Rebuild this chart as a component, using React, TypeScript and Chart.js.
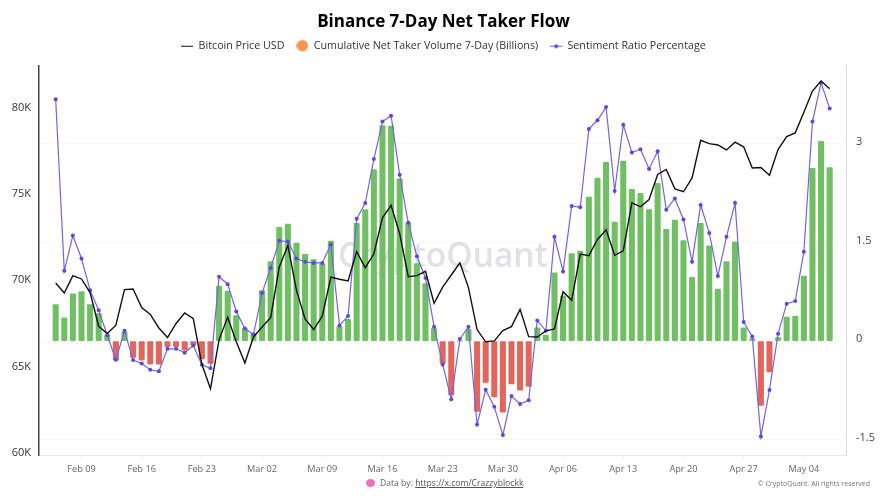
import React, { useEffect, useRef } from "react";
import { Chart, registerables } from "chart.js";

Chart.register(...registerables);

const titleText = "Binance 7-Day Net Taker Flow";
const priceName = "Bitcoin Price USD";
const volumeName = "Cumulative Net Taker Volume 7-Day (Billions)";
const ratioName = "Sentiment Ratio Percentage";

// x = day index, first point is Feb 06
const tickIndices = [3, 10, 17, 24, 31, 38, 45, 52, 59, 66, 73, 80, 87];
const tickLabels = ["Feb 09", "Feb 16", "Feb 23", "Mar 02", "Mar 09", "Mar 16", "Mar 23", "Mar 30", "Apr 06", "Apr 13", "Apr 20", "Apr 27", "May 04"];
const priceTicks = [60, 65, 70, 75, 80];
const ratioTicks = [-1.5, 0, 1.5, 3];

const price = [69.85, 69.27, 70.27, 70.08, 69.29, 67.34, 66.92, 67.4, 69.46, 69.5, 68.42, 68.03, 67.24, 66.69, 67.5, 68.11, 67.78, 65.14, 63.72, 66.57, 67.86, 66.44, 65.22, 66.72, 67.3, 67.84, 70.77, 72.02, 69.42, 67.76, 67.15, 67.92, 70.19, 70.06, 69.96, 71.66, 70.73, 71.54, 73.62, 74.34, 72.7, 70.21, 70.27, 70.52, 68.67, 69.61, 70.31, 71.02, 69.58, 67.15, 66.44, 66.49, 67.09, 67.32, 68.32, 66.74, 66.72, 67.07, 67.19, 69.34, 68.84, 71.52, 71.43, 72.37, 72.93, 71.45, 71.71, 74.49, 74.26, 74.68, 76.13, 76.42, 75.3, 75.13, 75.93, 78.11, 77.92, 77.84, 77.55, 78.0, 77.73, 76.51, 76.53, 76.09, 77.57, 78.32, 78.54, 79.73, 80.96, 81.54, 81.1];
const volume = [0.557, 0.355, 0.72, 0.755, 0.557, 0.42, 0.09, -0.29, 0.14, -0.25, -0.29, -0.35, -0.35, -0.086, -0.086, -0.137, -0.06, -0.27, -0.34, 0.836, 0.76, 0.39, 0.19, 0.117, 0.77, 1.21, 1.73, 1.78, 1.49, 1.32, 1.24, 1.18, 1.52, 0.22, 0.33, 1.79, 2.0, 2.61, 3.28, 3.27, 2.47, 1.8, 1.18, 0.876, 0.19, -0.34, -0.82, 0, 0.18, -1.07, -0.63, -0.85, -1.08, -0.65, -0.745, -0.69, 0.2, 0.09, 1.04, 0.69, 1.33, 1.37, 2.19, 2.48, 2.72, 1.81, 2.74, 2.31, 2.25, 2.0, 2.4, 1.7, 1.84, 1.53, 0.97, 1.79, 1.45, 0.79, 1.21, 1.51, 0.2, 0.04, -0.98, -0.47, 0.055, 0.365, 0.38, 0.99, 2.63, 3.04, 2.64];
const ratio = [3.68, 1.07, 1.606, 1.256, 0.775, 0.47, 0.09, -0.284, 0.157, -0.289, -0.34, -0.436, -0.46, -0.117, -0.117, -0.177, -0.066, -0.36, -0.415, 0.978, 0.866, 0.45, 0.19, 0.1, 0.73, 1.114, 1.525, 1.515, 1.256, 1.206, 1.19, 1.19, 1.47, 0.238, 0.38, 1.86, 2.1, 2.77, 3.34, 3.43, 2.53, 1.8, 1.29, 0.96, 0.22, -0.355, -0.886, 0.03, 0.22, -1.27, -0.74, -1.0, -1.43, -0.836, -0.957, -0.9, 0.314, 0.157, 1.586, 1.06, 2.057, 2.036, 3.227, 3.36, 3.56, 2.285, 3.29, 2.87, 2.92, 2.62, 2.89, 2.0, 2.17, 1.85, 1.206, 2.07, 1.646, 0.99, 1.586, 2.1, 0.29, 0.07, -1.45, -0.745, 0.11, 0.57, 0.61, 1.36, 3.34, 3.93, 3.54];

const FONT = "'Open Sans', 'Noto Sans', sans-serif";
const GREEN = "#70BF63";
const RED = "#E2665C";
const PURPLE = "#7265E3";
const PURPLE_DOT = "#5B48E0";

const toPoints = (values: number[]) => values.map((y, x) => ({ x, y }));

function swatch(draw: (c: CanvasRenderingContext2D) => void) {
  const el = document.createElement("canvas");
  el.width = 12;
  el.height = 14;
  const c = el.getContext("2d")!;
  draw(c);
  return el;
}

const watermark = {
  id: "watermark",
  beforeDatasetsDraw(chart: Chart) {
    const c = chart.ctx;
    c.save();
    c.font = `600 33.5px ${FONT}`;
    c.fillStyle = "rgba(120,125,145,0.22)";
    c.textAlign = "center";
    c.textBaseline = "middle";
    c.fillText("CryptoQuant", 443, 257);
    c.restore();
  },
};

export default function App() {
  const ref = useRef<HTMLCanvasElement>(null);
  useEffect(() => {
    document.body.style.background = "#fff";
    const lineSwatch = swatch((c) => {
      c.strokeStyle = "#111";
      c.lineWidth = 1;
      c.beginPath();
      c.moveTo(0, 7.5);
      c.lineTo(12, 7.5);
      c.stroke();
    });
    const dotSwatch = swatch((c) => {
      c.fillStyle = "#F2974F";
      c.beginPath();
      c.arc(6, 7, 5.8, 0, Math.PI * 2);
      c.fill();
    });
    const ratioSwatch = swatch((c) => {
      c.strokeStyle = PURPLE;
      c.lineWidth = 1;
      c.beginPath();
      c.moveTo(0, 7.5);
      c.lineTo(12, 7.5);
      c.stroke();
      c.fillStyle = PURPLE_DOT;
      c.beginPath();
      c.arc(6, 7.5, 2, 0, Math.PI * 2);
      c.fill();
    });
    const swatches = [lineSwatch, dotSwatch, ratioSwatch];

    const chart = new Chart(ref.current!, {
      type: "bar",
      plugins: [watermark],
      data: {
        datasets: [
          {
            type: "line",
            label: priceName,
            data: toPoints(price),
            yAxisID: "yPrice",
            borderColor: "#111",
            borderWidth: 1.4,
            pointRadius: 0,
            tension: 0,
            order: 1,
          },
          {
            type: "bar",
            label: volumeName,
            data: toPoints(volume),
            yAxisID: "yRatio",
            backgroundColor: (ctx: any) => ((ctx.raw?.y ?? 0) >= 0 ? GREEN : RED),
            barThickness: 5.4,
            borderRadius: 1,
            borderSkipped: false,
            order: 3,
          },
          {
            type: "line",
            label: ratioName,
            data: toPoints(ratio),
            yAxisID: "yRatio",
            borderColor: PURPLE,
            borderWidth: 1.2,
            pointRadius: 2,
            pointBackgroundColor: PURPLE_DOT,
            pointBorderColor: PURPLE_DOT,
            pointBorderWidth: 0,
            tension: 0,
            order: 2,
          },
        ],
      } as any,
      options: {
        responsive: false,
        animation: false,
        layout: { padding: 0 },
        plugins: {
          title: {
            display: true,
            text: titleText,
            color: "#000",
            font: { family: FONT, size: 17, weight: "bold" },
            padding: { top: 12, bottom: -4 },
          },
          // empty box under the legend: spacing between legend and plot
          subtitle: {
            display: true,
            text: "",
            weight: 500,
            font: { family: FONT, size: 1 },
            padding: { top: 0, bottom: 3.4 },
          },
          legend: {
            display: true,
            position: "top",
            labels: {
              color: "#333",
              font: { family: FONT, size: 10.7 },
              usePointStyle: true,
              pointStyleWidth: 12,
              padding: 12,
              generateLabels: () =>
                [priceName, volumeName, ratioName].map((text, i) => ({
                  text,
                  pointStyle: swatches[i],
                  fontColor: "#333",
                  datasetIndex: i,
                  lineWidth: 0,
                })) as any,
            },
          },
          tooltip: { enabled: false },
        },
        scales: {
          x: {
            type: "linear",
            offset: false,
            min: -1.94,
            max: 91.9,
            afterBuildTicks: (axis: any) => {
              axis.ticks = tickIndices.map((value) => ({ value }));
            },
            afterFit: (axis: any) => {
              axis.height = 42;
            },
            ticks: {
              autoSkip: false,
              maxRotation: 0,
              color: "#666",
              font: { family: FONT, size: 9.2 },
              padding: 5,
              callback: (v: any) => tickLabels[tickIndices.indexOf(Number(v))] ?? "",
            },
            grid: { offset: false, drawOnChartArea: false, color: "#ececec", tickLength: 4 },
            border: { color: "#e6e6e6" },
          },
          yPrice: {
            type: "linear",
            position: "left",
            min: 59.885,
            max: 82.43,
            afterBuildTicks: (axis: any) => {
              axis.ticks = priceTicks.map((value) => ({ value }));
            },
            afterFit: (axis: any) => {
              axis.width = 39;
            },
            ticks: {
              color: "#333",
              font: { family: FONT, size: 11 },
              padding: 8,
              callback: (v: any) => `${v}K`,
            },
            grid: { drawOnChartArea: false, drawTicks: false },
            border: { color: "#444", width: 1.5 },
          },
          yRatio: {
            type: "linear",
            position: "right",
            min: -1.733,
            max: 4.19,
            afterBuildTicks: (axis: any) => {
              axis.ticks = ratioTicks.map((value) => ({ value }));
            },
            afterFit: (axis: any) => {
              axis.width = 41;
            },
            ticks: {
              color: "#444",
              font: { family: FONT, size: 11 },
              padding: 10,
              labelOffset: -2,
              callback: (v: any) => `${v}`,
            },
            grid: { color: "#f7f7f7", drawTicks: false },
            border: { color: "#dcdcdc" },
          },
        },
      } as any,
    });
    return () => chart.destroy();
  }, []);

  return (
    <div style={{ position: "fixed", left: 0, top: 0, width: 887, height: 497, background: "#fff", fontFamily: FONT }}>
      <canvas ref={ref} width={887} height={497} style={{ display: "block" }} />
      <div style={{ position: "absolute", left: 366, top: 479, width: 9, height: 8, borderRadius: "50%", background: "#EE6FC0" }} />
      <div style={{ position: "absolute", left: 380, top: 476, fontSize: 8.6, lineHeight: "14px", color: "#666", whiteSpace: "nowrap" }}>
        Data by: <a href="https://x.com/Crazzyblockk" style={{ color: "#555", textDecoration: "underline" }}>https://x.com/Crazzyblockk</a>
      </div>
      <div style={{ position: "absolute", right: 17, top: 477, fontSize: 7, lineHeight: "14px", color: "#777", whiteSpace: "nowrap" }}>
        © CryptoQuant. All rights reserved
      </div>
    </div>
  );
}
